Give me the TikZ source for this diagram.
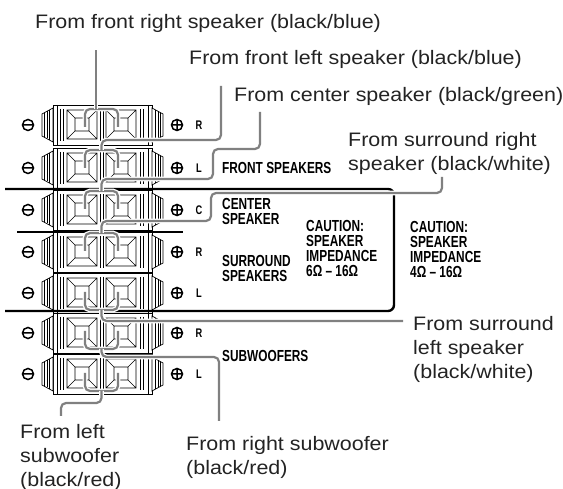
\documentclass[tikz,border=0pt]{standalone}
\usepackage{fontspec}
\setmainfont{Liberation Sans}
\newfontfamily\labelfont[FakeStretch=1.10]{Liberation Sans}
\newfontfamily\condfont[FakeStretch=0.74]{Liberation Sans}
\usetikzlibrary{positioning}

\definecolor{wiregray}{RGB}{128,128,128}
\definecolor{textgray}{RGB}{35,35,35}

\tikzset{
    fromlabel/.style={
           font=\labelfont\fontsize{19.5}{24}\selectfont,
           text=textgray,
           align=left,
           inner sep=0pt,
           anchor=base west,
           },
    panel/.style={
           font=\condfont\bfseries\fontsize{16}{15}\selectfont,
           align=left,
           inner sep=0pt,
           anchor=base west,
           },
    chan/.style={
           font=\condfont\bfseries\fontsize{12.5}{12}\selectfont,
           inner sep=0pt,
           },
    wire/.style={
           draw=wiregray,
           line width=2.2pt,
           rounded corners=5pt,
           preaction={draw=white,line width=4.8pt},
           },
    rim/.style={draw=black, line width=2.4pt, rounded corners=6pt},
    blockline/.style={draw=black, line width=0.7pt},
    polarity/.style={draw=black, line width=1.5pt},
    % one pair of push terminals, #1 = channel letter
    pics/terminal/.style={code={
        \draw[blockline, fill=white] (53,-20) rectangle (152,20);
        \draw[blockline] (57,-20) -- (57,20) (148,-20) -- (148,20);
        % side wings
        \draw[blockline, fill=white] (42,-11) -- (53,-17) -- (53,17) -- (42,11) -- cycle;
        \draw[blockline] (44.5,-12) -- (44.5,12) (47,-13.5) -- (47,13.5) (49.5,-15) -- (49.5,15);
        \draw[blockline, fill=white] (152,-17) -- (163,-11) -- (163,11) -- (152,17) -- cycle;
        \draw[blockline] (155.5,-15) -- (155.5,15) (158,-13.5) -- (158,13.5) (160.5,-12) -- (160.5,12);
        % fins
        \draw[blockline] (60,-16) -- (60,16) (63.5,-16) -- (63.5,16)
                         (100,-16) -- (100,16) (103,-16) -- (103,16)
                         (140,-16) -- (140,16) (143.5,-16) -- (143.5,16);
        % push buttons
        \draw[blockline] (67,-15) rectangle (97,14) (75,-7) rectangle (89,6)
                         (67,-15) -- (75,-7) (97,-15) -- (89,-7) (67,14) -- (75,6) (97,14) -- (89,6);
        \draw[blockline] (106,-15) rectangle (136,14) (114,-7) rectangle (128,6)
                         (106,-15) -- (114,-7) (136,-15) -- (128,-7) (106,14) -- (114,6) (136,14) -- (128,6);
        % minus and plus
        \draw[polarity] (28,0) circle (5.5) (22.5,0) -- (33.5,0);
        \draw[polarity] (177,0) circle (5.5) (171.5,0) -- (182.5,0) (177,-5.5) -- (177,5.5);
        \node[chan] (-ch) at (199,0) {#1};
    }},
    % speaker plug in the two terminals
    pics/plug/.style={code={
        \draw[wire] (-16.5,18) -- (-16.5,0) -- (16.5,0) -- (16.5,18);
    }},
}

\begin{document}
\begin{tikzpicture}[x=1pt,y=-1pt]
 \useasboundingbox (0,0) rectangle (563,489);

 % terminal rows
 \pic (FR) at (0,125) {terminal=R};
 \pic (FL) at (0,168) {terminal=L};
 \pic (C)  at (0,210) {terminal=C};
 \pic (SR) at (0,252) {terminal=R};
 \pic (SL) at (0,293) {terminal=L};
 \pic (WR) at (0,333) {terminal=R};
 \pic (WL) at (0,374) {terminal=L};

 % frame round the 6-16 ohm group
 \draw[rim] (5,189) -- (394,189) -- (394,311) -- (5,311);
 \draw[black, line width=2pt] (17,232) -- (183,232);

 % panel texts (base = last line)
 \node[panel] (Front Speakers) at (222,174) {FRONT SPEAKERS};
 \node[panel] (Center Speaker) at (222,225) {CENTER\\SPEAKER};
 \node[panel] (Surround Speakers) at (222,282) {SURROUND\\SPEAKERS};
 \node[panel] (Caution Low) at (306,277) {CAUTION:\\SPEAKER\\IMPEDANCE\\6Ω – 16Ω};
 \node[panel] (Caution High) at (410,278) {CAUTION:\\SPEAKER\\IMPEDANCE\\4Ω – 16Ω};
 \node[panel] (Subwoofers) at (222,362) {SUBWOOFERS};

 % where each cable comes from
 \node[fromlabel] (From Front Right) at (35,29) {From front right speaker (black/blue)};
 \node[fromlabel] (From Front Left) at (189,65) {From front left speaker (black/blue)};
 \node[fromlabel] (From Center) at (234,102) {From center speaker (black/green)};
 \node[fromlabel] (From Surround Right) at (348,171) {From surround right\\speaker (black/white)};
 \node[fromlabel] (From Surround Left) at (413,379) {From surround\\left speaker\\(black/white)};
 \node[fromlabel] (From Right Sub) at (186,474) {From right subwoofer\\(black/red)};
 \node[fromlabel] (From Left Sub) at (20,486) {From left\\subwoofer\\(black/red)};

 % cable ends below the texts
 \coordinate (fr end) at (96,50);
 \coordinate (fl end) at (221,86);
 \coordinate (c end)  at (260,112);
 \coordinate (sr end) at (442,177);
 \coordinate (sl end) at (403,321);
 \coordinate (wr end) at (219,421);
 \coordinate (wl end) at (61,416);

 % plugs
 \coordinate (plug FR) at (101.5,109);
 \coordinate (plug FL) at (101.5,150);
 \coordinate (plug C)  at (101.5,191);
 \coordinate (plug SR) at (101.5,233);
 \coordinate (plug SL) at (101.5,310);
 \coordinate (plug WR) at (101.5,349);
 \coordinate (plug WL) at (101.5,391);
 \pic at (plug FR) {plug};
 \pic at (plug FL) {plug};
 \pic at (plug C) {plug};
 \pic at (plug SR) {plug};
 \pic[yscale=-1] at (plug SL) {plug};
 \pic[yscale=-1] at (plug WR) {plug};
 \pic[yscale=-1] at (plug WL) {plug};

 % cables
 \draw[wire] (plug FR -| fr end) -- (fr end);
 \draw[wire] (plug FL) -- (101.5,140) -- (221,140) -- (fl end);
 \draw[wire] (plug C) -- (101.5,179) -- (213,179) -- (213,149) -- (260,149) -- (c end);
 \draw[wire] (plug SR) -- (101.5,221) -- (211,221) -- (211,193) -- (442,193) -- (sr end);
 \draw[wire] (plug SL) -- (101.5,321) -- (sl end);
 \draw[wire] (plug WR) -- (101.5,357) -- (219,357) -- (wr end);
 \draw[wire] (plug WL) -- (101.5,403) -- (61,403) -- (wl end);

\end{tikzpicture}
\end{document}
